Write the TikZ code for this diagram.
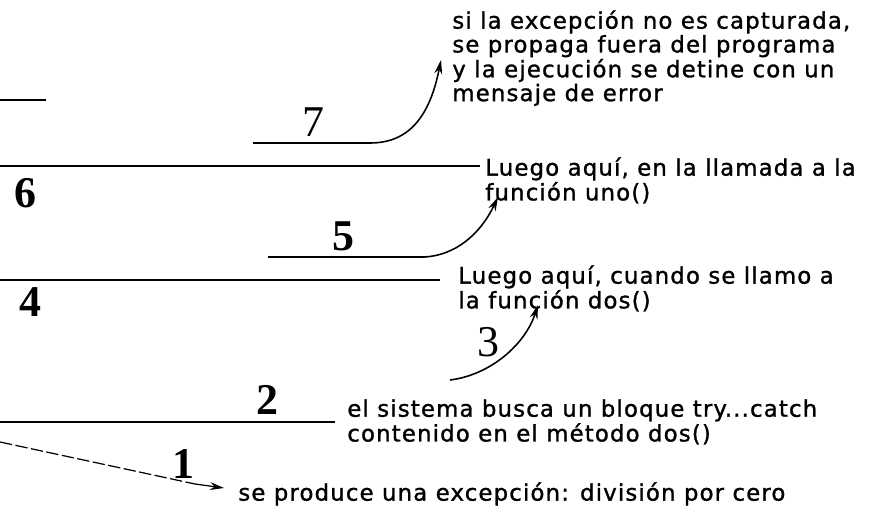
\documentclass[tikz,border=0pt]{standalone}
\usepackage{fontspec}
\usepackage{tikz}
\usetikzlibrary{arrows.meta}
\newfontfamily\notefont[LetterSpace=5.0,FakeBold=1.2]{DejaVu Sans}
\newfontfamily\numfont{Liberation Serif}

\begin{document}
\begin{tikzpicture}[x=0.02cm, y=-0.02cm,
	level/.style={line width=1pt},
	note/.style={font=\notefont\fontsize{13}{12.5}\selectfont, align=left, inner sep=0pt, anchor=north west},
	num/.style={font=\numfont\bfseries\fontsize{25}{25}\selectfont, inner sep=0pt},
	hook/.style={line width=0.9pt, -{Stealth[length=8pt,width=4.5pt]}}]
	\useasboundingbox (0,0) rectangle (879,507);

	% Levels of the call stack, from top to bottom
	\coordinate (top0) at (0,100);   \coordinate (top1) at (46,100);
	\coordinate (lvl7a) at (253,143); \coordinate (lvl7b) at (370,143);
	\coordinate (lvl6a) at (0,166);   \coordinate (lvl6b) at (480,166);
	\coordinate (lvl5a) at (268,257); \coordinate (lvl5b) at (425,257);
	\coordinate (lvl4a) at (0,280);   \coordinate (lvl4b) at (440,280);
	\coordinate (lvl2a) at (0,422);   \coordinate (lvl2b) at (335,422);
	\draw[level] (top0) -- (top1);
	\draw[level] (lvl7a) -- (lvl7b);
	\draw[level] (lvl6a) -- (lvl6b);
	\draw[level] (lvl5a) -- (lvl5b);
	\draw[level] (lvl4a) -- (lvl4b);
	\draw[level] (lvl2a) -- (lvl2b);

	% Step numbers
	\node[num] (n7) at (313,122) {\mdseries 7};
	\node[num] (n6) at (25,193) {6};
	\node[num] (n5) at (343,236) {5};
	\node[num] (n4) at (30,302) {4};
	\node[num] (n3) at (488,342) {\mdseries 3};
	\node[num] (n2) at (267,400) {2};
	\node[num] (n1) at (183,464) {1};

	% Notes
	\node[note] (uncaught) at (452,10) {si la excepción no es capturada,\\se propaga fuera del programa\\y la ejecución se detine con un\\mensaje de error};
	\node[note] (inuno) at (485,157) {Luego aquí, en la llamada a la\\función uno()};
	\node[note] (indos) at (458,265) {Luego aquí, cuando se llamo a\\la función dos()};
	\node[note] (search) at (347,399) {el sistema busca un bloque try...catch\\contenido en el método dos()};
	\node[note] (thrown) at (238,482) {se produce una excepción: división por cero};

	% Arrows towards the notes
	\coordinate (tip7) at (441,60);
	\coordinate (tip5) at (498,197);
	\coordinate (start3) at (450,380);
	\coordinate (tip3) at (538,305);
	\coordinate (start1) at (0,442);
	\coordinate (bend1) at (195,484);
	\coordinate (tip1) at (224,488);
	\draw[hook] (lvl7b) .. controls (410,143) and (430,115) .. (tip7);
	\draw[hook] (lvl5b) .. controls (455,255) and (480,235) .. (tip5);
	\draw[hook] (start3) .. controls (490,375) and (525,345) .. (tip3);
	\draw[line width=0.7pt, dash pattern=on 7pt off 2pt] (start1) -- (bend1);
	\draw[hook, line width=0.7pt] (bend1) -- (tip1);
\end{tikzpicture}
\end{document}
